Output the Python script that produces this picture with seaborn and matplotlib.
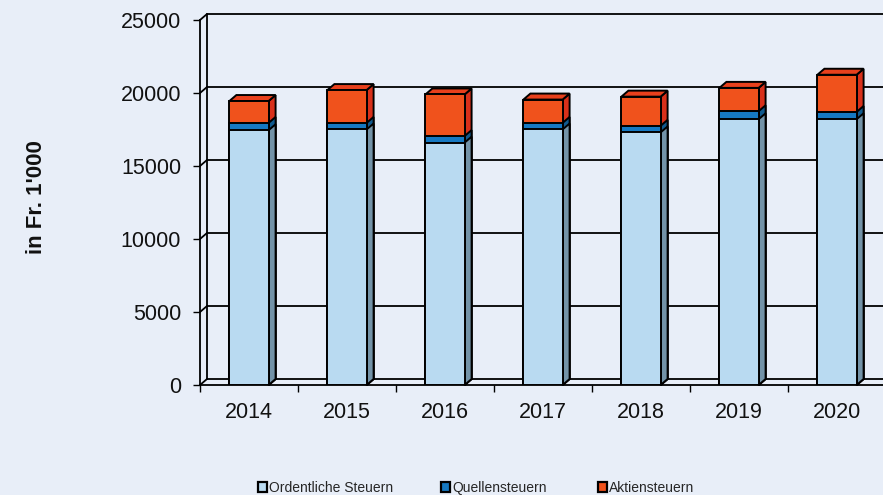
import matplotlib
matplotlib.use("Agg")
import matplotlib.pyplot as plt
from matplotlib.patches import Polygon, Patch
import seaborn as sns
import pandas as pd

years = ['2014', '2015', '2016', '2017', '2018', '2019', '2020']
ordentliche = [17450, 17500, 16600, 17500, 17300, 18200, 18200]
quellen = [500, 450, 450, 450, 450, 550, 500]
aktien = [1500, 2250, 2850, 1600, 2000, 1600, 2550]
series_names = ['Ordentliche Steuern', 'Quellensteuern', 'Aktiensteuern']
y_label = "in Fr. 1'000"
y_ticks = [0, 5000, 10000, 15000, 20000, 25000]

BG = '#E8EEF8'
front_cols = ['#B9DAF1', '#1679C2', '#F0521C']
side_cols = ['#7393A8', '#115A8E', '#D8301A']
top_col = '#E8401C'

sns.set_theme(style='white')
plt.rcParams['font.family'] = ['Liberation Sans', 'DejaVu Sans']

W, H = 883, 495
fig = plt.figure(figsize=(W / 100, H / 100), dpi=100, facecolor=BG)
cat_px = 98.0
left_px, bottom_px, top_px = 200, 385, 20
ax = fig.add_axes([left_px / W, (H - bottom_px) / H, (W - left_px) / W, (bottom_px - top_px) / H])
ax.set_facecolor('none')

ymax = 25000
dx = 7 / cat_px
dy = 6 * ymax / (bottom_px - top_px)
x0 = -0.5
x1 = -0.5 + (W - left_px) / cat_px

df = pd.DataFrame({'Jahr': years, 'ord': ordentliche, 'q': quellen, 'a': aktien})
df['c1'] = df['ord']
df['c2'] = df['ord'] + df['q']
df['c3'] = df['c2'] + df['a']

# back wall & side wall grid
lw = 1.3
for v in y_ticks:
    ax.plot([x0 + dx, x1 + 1], [v + dy, v + dy], color='black', lw=lw, zorder=1, clip_on=False)
    if v > 0:
        ax.plot([x0, x0 + dx], [v, v + dy], color='black', lw=lw, zorder=1, clip_on=False)
ax.plot([x0 + dx, x0 + dx], [dy, ymax + dy], color='black', lw=lw, zorder=1, clip_on=False)
ax.plot([x0, x0 + dx], [0, dy], color='black', lw=lw, zorder=1, clip_on=False)

# stacked bars (front faces), drawn as cumulative overlays
bar_w = 0.4
groups = []
for col, c, z in [('c3', front_cols[2], 3.4), ('c2', front_cols[1], 3.5), ('c1', front_cols[0], 3.6)]:
    n0 = len(ax.patches)
    sns.barplot(data=df, x='Jahr', y=col, color=c, width=bar_w, edgecolor='black',
                linewidth=1.4, saturation=1, ax=ax, zorder=z)
    new = ax.patches[n0:]
    for p in new:
        p.set_facecolor(c)
        p.set_zorder(z)
    groups.append(new)

# 3D side and top faces from bar geometry
for gi, (patches, sc, z) in enumerate(zip(groups, [side_cols[2], side_cols[1], side_cols[0]], [3.1, 3.2, 3.3])):
    for p in patches:
        x, y = p.get_x(), p.get_y()
        w, h = p.get_width(), p.get_height()
        side = Polygon([(x + w, y), (x + w + dx, y + dy), (x + w + dx, y + h + dy), (x + w, y + h)],
                       closed=True, facecolor=sc, edgecolor='black', lw=1.4, zorder=z, clip_on=False)
        ax.add_patch(side)
        if gi == 0:
            top = Polygon([(x, y + h), (x + dx, y + h + dy), (x + w + dx, y + h + dy), (x + w, y + h)],
                          closed=True, facecolor=top_col, edgecolor='black', lw=1.4, zorder=z, clip_on=False)
            ax.add_patch(top)

ax.set_xlim(x0, x1)
ax.set_ylim(0, ymax)
for s in ['top', 'right']:
    ax.spines[s].set_visible(False)
for s in ['left', 'bottom']:
    ax.spines[s].set_color('black')
    ax.spines[s].set_linewidth(lw)
    ax.spines[s].set_zorder(2)

ax.set_yticks(y_ticks)
ax.set_yticklabels([str(v) for v in y_ticks])
ax.set_xticks(range(len(years)))
ax.set_xticklabels(years)
ax.set_xticks([i - 0.5 for i in range(len(years))], minor=True)
ax.tick_params(axis='y', which='major', left=True, length=5, width=1, color='black',
               pad=8.5, labelsize=15.5, labelcolor='#111111')
ax.tick_params(axis='x', which='major', bottom=True, length=0, pad=12.5, labelsize=15.5, labelcolor='#111111')
ax.tick_params(axis='x', which='minor', bottom=True, length=5, width=1, color='black')
ax.set_xlabel('')
ax.set_ylabel('')

fig.text(37 / W, 1 - 197 / H, y_label, rotation=90, ha='center', va='center',
         fontsize=16, fontweight='bold', color='#111111')

# legend entries placed individually
marker_left_px = [258, 441, 598]
for name, c, mx in zip(series_names, front_cols, marker_left_px):
    fig.legend([Patch(facecolor=c, edgecolor='black', linewidth=1.6)], [name],
               loc='center left', bbox_to_anchor=(mx / W, 1 - 488 / H),
               frameon=False, fontsize=10, handlelength=0.65, handleheight=0.65,
               handletextpad=0.15, borderaxespad=0, borderpad=0)

fig.savefig('out.png', dpi=100, facecolor=BG)
